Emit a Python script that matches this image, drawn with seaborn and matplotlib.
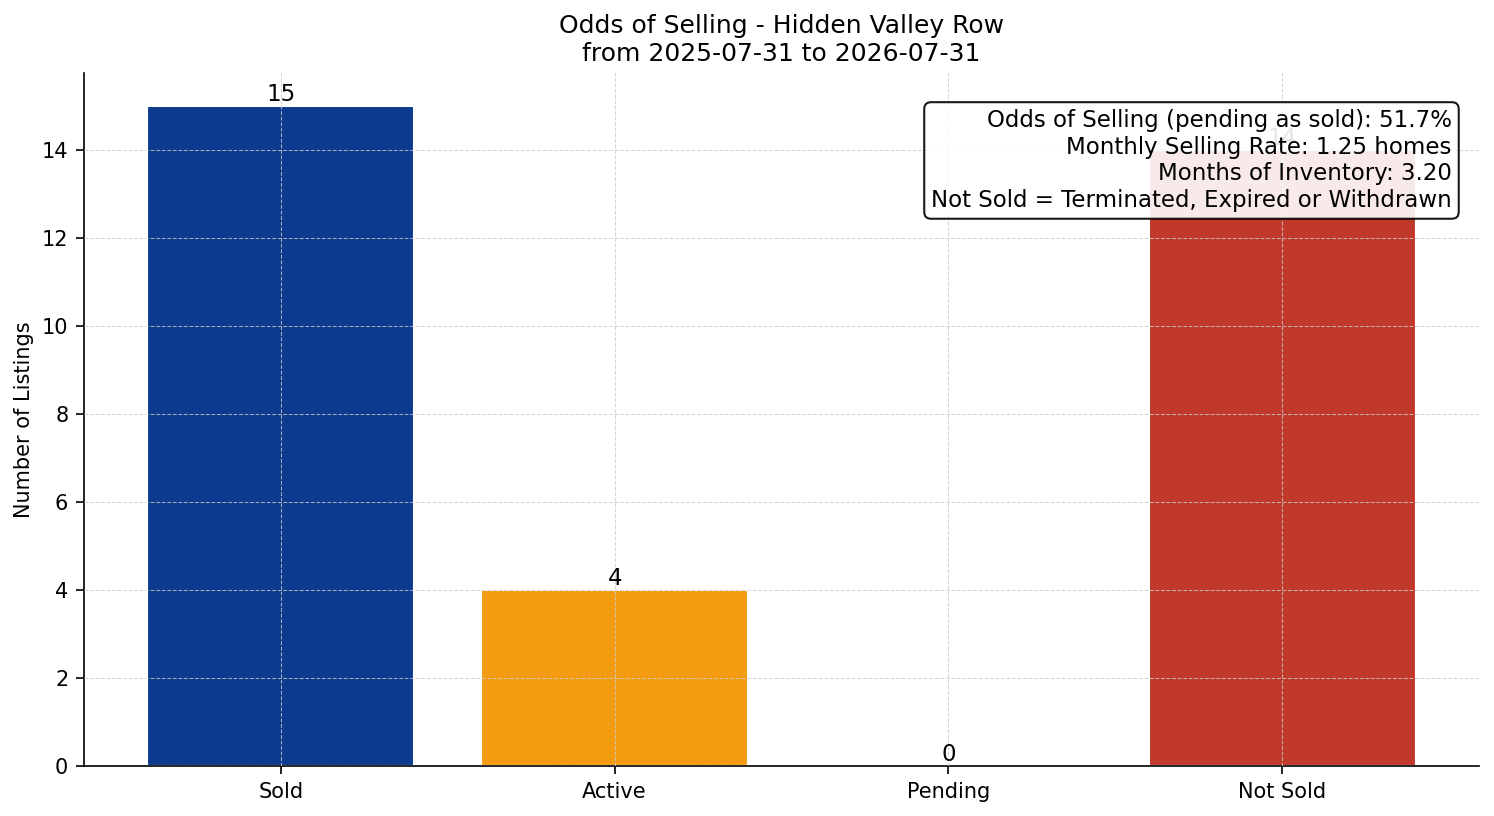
import pandas as pd
import seaborn as sns
import matplotlib
matplotlib.use("Agg")
import matplotlib.pyplot as plt

# 데이터
status = ["Sold", "Active", "Pending", "Not Sold"]
counts = [15, 4, 0, 14]
colors = ["#0B3A8E", "#F39C12", "#7F8C8D", "#C0392B"]

title = "Odds of Selling - Hidden Valley Row\nfrom 2025-07-31 to 2026-07-31"
info_text = ("Odds of Selling (pending as sold): 51.7%\n"
             "Monthly Selling Rate: 1.25 homes\n"
             "Months of Inventory: 3.20\n"
             "Not Sold = Terminated, Expired or Withdrawn")

df = pd.DataFrame({"status": status, "count": counts})

sns.set_style("white", rc={"axes.edgecolor": "black", "text.color": "black",
                           "axes.labelcolor": "black", "xtick.color": "black",
                           "ytick.color": "black"})
plt.rcParams["font.family"] = ["DejaVu Sans"]

fig, ax = plt.subplots(figsize=(9.96, 5.44), dpi=150)
sns.barplot(data=df, x="status", y="count", hue="status", palette=colors,
            order=status, hue_order=status, legend=False, width=0.8,
            saturation=1, ax=ax)

for c in ax.containers:
    ax.bar_label(c, fontsize=11)

# 막대 위에 격자 그리기
ax.grid(True, linestyle="--", linewidth=0.5, color="#cccccc", alpha=0.8)
ax.set_axisbelow(False)
ax.set_xlim(-0.59, 3.59)
ax.set_xlabel("")
ax.set_ylabel("Number of Listings", fontsize=10)
ax.set_title(title, fontsize=12)
ax.tick_params(axis="both", labelsize=10, length=4, left=True, bottom=True)
sns.despine(ax=ax)

ax.text(0.9805, 0.948, info_text, transform=ax.transAxes, ha="right", va="top",
        fontsize=11, bbox=dict(boxstyle="round,pad=0.3", facecolor="white",
                               edgecolor="black", alpha=0.9))

fig.subplots_adjust(left=0.0562, right=0.99, top=0.9105, bottom=0.0613)
fig.savefig("out.png", dpi=150)
